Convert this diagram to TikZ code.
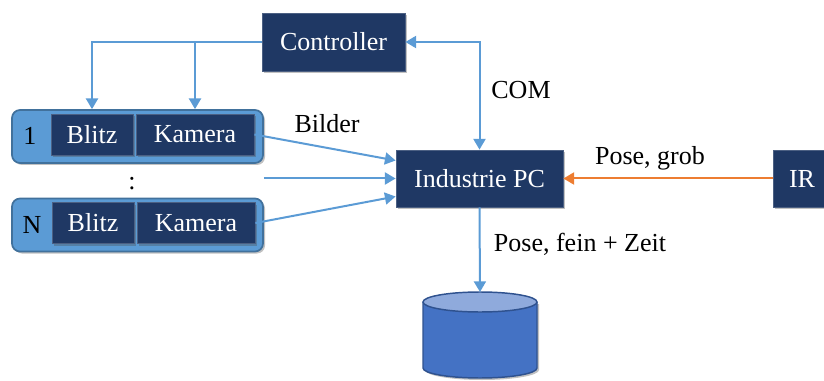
\documentclass[tikz,border=0pt]{standalone}
\usepackage{fontspec}
\setmainfont{Liberation Serif}
\usetikzlibrary{arrows.meta,shadows,calc}
\definecolor{navy}{HTML}{1F3864}
\definecolor{lineblue}{HTML}{5B9BD5}
\definecolor{grpedge}{HTML}{41719C}
\definecolor{dbbody}{HTML}{4472C4}
\definecolor{dbtop}{HTML}{8FAADC}
\definecolor{dbedge}{HTML}{2F528F}
\definecolor{orangeln}{HTML}{ED7D31}
\tikzset{
  shd/.style={drop shadow={opacity=0.35,shadow xshift=1.5pt,shadow yshift=-1.5pt,fill=black!70}},
  darkbox/.style={shd,fill=navy,draw=navy!80!white,line width=0.6pt,text=white,inner sep=0pt,
    font=\fontsize{19.5}{22}\selectfont},
  group/.style={shd,fill=lineblue,draw=grpedge,line width=1.3pt,rounded corners=6pt,inner sep=0pt},
  lbl/.style={font=\fontsize{19.5}{22}\selectfont,text=black,inner sep=0pt},
  tip/.style={},
  arr/.style={draw=lineblue,line width=1.5pt,-{Triangle[width=9pt,length=8pt]}},
  biarr/.style={draw=lineblue,line width=1.5pt,{Triangle[width=9pt,length=8pt]}-{Triangle[width=9pt,length=8pt]}},
  orarr/.style={draw=orangeln,line width=1.5pt,-{Triangle[width=9pt,length=8pt]}}
}
\begin{document}
\begin{tikzpicture}[x=0.75pt,y=-0.75pt]
\useasboundingbox (0,0) rectangle (824,381);

% main boxes
\node[darkbox,minimum width=107.25pt,minimum height=43.5pt] (ctrl) at (333.5,42) {Controller};
\node[darkbox,minimum width=125.25pt,minimum height=42.75pt] (pc) at (479.5,178.5) {Industrie PC};
\node[darkbox,minimum width=43.5pt,minimum height=42.75pt] (ir) at (802,178.5) {IR};

% camera groups
\node[group,minimum width=188.25pt,minimum height=39.75pt] (grp1) at (137.5,136.5) {};
\node[group,minimum width=188.25pt,minimum height=39.75pt] (grpN) at (137.5,225) {};
\node[darkbox,minimum width=61.5pt,minimum height=30.75pt] (blitz1) at (92,134.5) {Blitz};
\node[darkbox,minimum width=88.5pt,minimum height=30.75pt] (kam1) at (195,134.5) {Kamera};
\node[darkbox,minimum width=61.5pt,minimum height=30.75pt] (blitzN) at (93,223) {Blitz};
\node[darkbox,minimum width=88.5pt,minimum height=30.75pt] (kamN) at (196,223) {Kamera};
\node[lbl] (n1) at (30,136) {1};
\node[lbl] (nN) at (32,225) {N};
\node[lbl] (dots) at (132,184) {:};

% database cylinder
\fill[shd,dbbody] (423,302) -- (423,368) arc[start angle=180,end angle=360,x radius=42.75pt,y radius=7.5pt] -- (537,302) -- cycle;
\draw[dbedge,line width=1.1pt,fill=dbbody] (423,302) -- (423,368) arc[start angle=180,end angle=360,x radius=42.75pt,y radius=7.5pt] -- (537,302);
\draw[dbedge,line width=1.1pt,fill=dbtop] (480,302) ellipse[x radius=42.75pt,y radius=7.5pt];
\coordinate (db) at (480,292);

% connectors
\draw[arr] (ctrl.west) -| (blitz1 |- grp1.north);
\draw[arr] (kam1 |- ctrl.west) -- (kam1 |- grp1.north);
\draw[biarr] (ctrl.east) -| (pc.north);
\draw[arr] (kam1.east) -- ($(pc.west)+(0,-18)$);
\draw[arr] (grp1.east |- pc.west) -- (pc.west);
\draw[arr] (kamN.east) -- ($(pc.west)+(0,18)$);
\draw[arr] (pc.south) -- (db);
\draw[orarr] (ir.west) -- (pc.east);

% labels
\node[lbl] (bilder) at (327,124) {Bilder};
\node[lbl] (com) at (521,90) {COM};
\node[lbl] (fein) at (580,244) {Pose, fein + Zeit};
\node[lbl] (grob) at (650,158) {Pose, grob};
\end{tikzpicture}
\end{document}
